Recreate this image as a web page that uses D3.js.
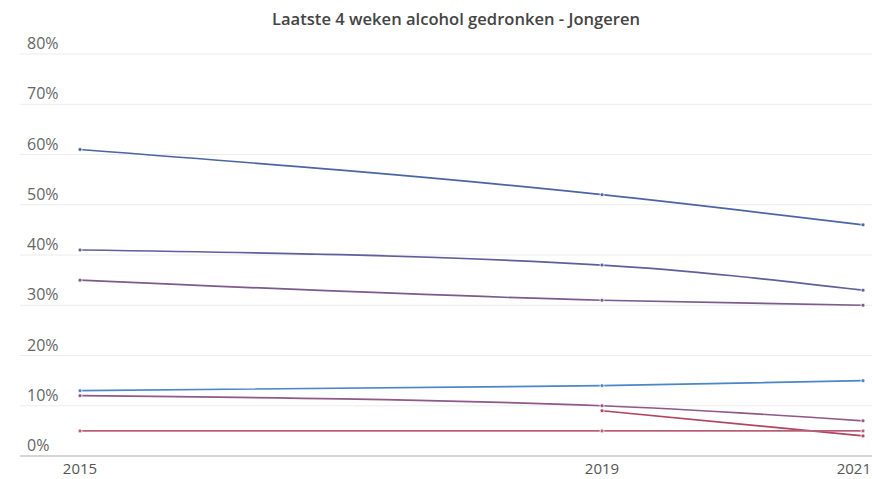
<!DOCTYPE html>
<html>
<head>
<meta charset="utf-8">
<script src="https://cdn.jsdelivr.net/npm/d3@7"></script>
<style>
  body { margin: 0; background: #fff; }
  svg text { font-family: "Open Sans", "Noto Sans", sans-serif; }
</style>
</head>
<body>
<div id="chart"></div>
<script>
const years = [2015, 2019, 2021];
const yTicks = [0, 10, 20, 30, 40, 50, 60, 70, 80];
const series1 = [61, 52, 46];
const series2 = [41, 38, 33];
const series3 = [35, 31, 30];
const series4 = [13, 14, 15];
const series5 = [12, 10, 7];
const series6 = [null, 9, 4];
const series7 = [5, 5, 5];
const seriesColors = ["#4b64a6", "#5e5f9b", "#7b5a8c", "#4a86c8", "#8e5887", "#b1445f", "#b86079"];

const allSeries = [series1, series2, series3, series4, series5, series6, series7];

const width = 872, height = 479;
const margin = { top: 54, right: 9, bottom: 23, left: 80 };

const svg = d3.select("#chart").append("svg")
  .attr("width", width)
  .attr("height", height);

svg.append("text")
  .attr("x", 456)
  .attr("y", 25)
  .attr("text-anchor", "middle")
  .attr("font-size", 16.5)
  .attr("font-weight", 600)
  .attr("fill", "#444")
  .attr("textLength", 368)
  .attr("lengthAdjust", "spacingAndGlyphs")
  .text("Laatste 4 weken alcohol gedronken - Jongeren");

const x = d3.scaleLinear()
  .domain([2015, 2021])
  .range([margin.left, width - margin.right]);

const y = d3.scaleLinear()
  .domain([0, 80])
  .range([height - margin.bottom, margin.top]);

// gridlines + labels boven de lijn
const grid = svg.append("g");
grid.selectAll("line")
  .data(yTicks.filter(d => d > 0))
  .join("line")
  .attr("x1", 20).attr("x2", width)
  .attr("y1", d => y(d)).attr("y2", d => y(d))
  .attr("stroke", "#ececec");

grid.selectAll("text")
  .data(yTicks)
  .join("text")
  .attr("x", 27)
  .attr("y", d => y(d) - 5)
  .attr("font-size", 16)
  .attr("fill", "#666")
  .text(d => d + "%");

// basislijn
svg.append("line")
  .attr("x1", 20).attr("x2", width)
  .attr("y1", y(0)).attr("y2", y(0))
  .attr("stroke", "#c8c8c8")
  .attr("stroke-width", 1.5);

// x-as labels
svg.append("g").selectAll("text")
  .data(years)
  .join("text")
  .attr("x", d => x(d))
  .attr("y", y(0) + 18)
  .attr("text-anchor", (d, i) => i === years.length - 1 ? "end" : "middle")
  .attr("dx", (d, i) => i === years.length - 1 ? 8 : 0)
  .attr("font-size", 15)
  .attr("fill", "#555")
  .text(d => d);

const line = d3.line()
  .defined(d => d.v != null)
  .x(d => x(d.year))
  .y(d => y(d.v))
  .curve(d3.curveMonotoneX);

const lines = svg.append("g");
allSeries.forEach((vals, i) => {
  const pts = vals.map((v, j) => ({ year: years[j], v }));
  lines.append("path")
    .datum(pts)
    .attr("fill", "none")
    .attr("stroke", seriesColors[i])
    .attr("stroke-width", 1.7)
    .attr("d", line);

  lines.append("g").selectAll("circle")
    .data(pts.filter(d => d.v != null))
    .join("circle")
    .attr("cx", d => x(d.year))
    .attr("cy", d => y(d.v))
    .attr("r", 2)
    .attr("fill", seriesColors[i])
    .attr("stroke", "#fff")
    .attr("stroke-width", 0.8);
});
</script>
</body>
</html>
